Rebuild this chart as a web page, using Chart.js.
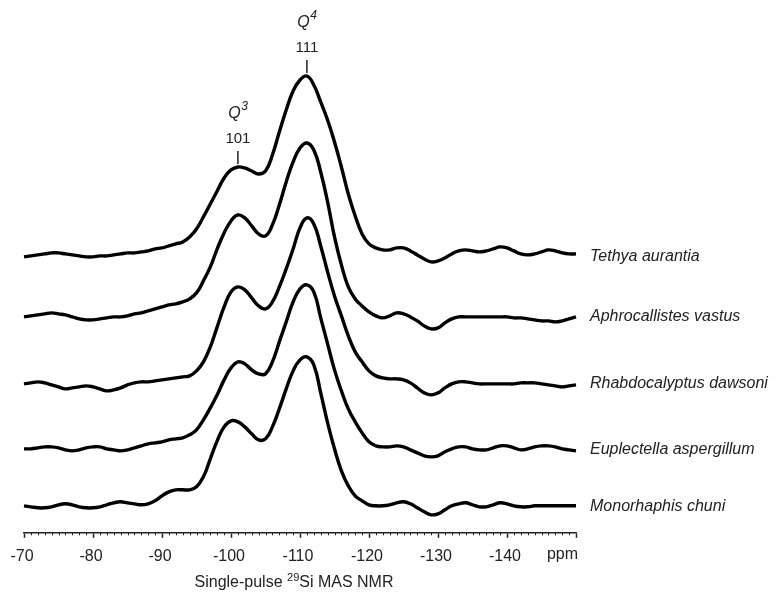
<!DOCTYPE html>
<html>
<head>
<meta charset="utf-8">
<script src="https://cdn.jsdelivr.net/npm/chart.js@4.4.1/dist/chart.umd.min.js"></script>
<style>
html, body { margin: 0; padding: 0; background: #fff; }
</style>
</head>
<body>
<canvas id="myChart" width="780" height="592"></canvas>
<script>
// chemical shift grid (ppm)
var ppm = [-70, -71, -72, -73, -74, -75, -76, -77, -78, -79,
           -80, -81, -82, -83, -84, -85, -86, -87, -88, -89,
           -90, -91, -92, -93, -94, -95, -96, -97, -98, -99,
           -100, -101, -102, -103, -104, -105, -106, -107, -108, -109,
           -110, -111, -112, -113, -114, -115, -116, -117, -118, -119,
           -120, -121, -122, -123, -124, -125, -126, -127, -128, -129,
           -130, -131, -132, -133, -134, -135, -136, -137, -138, -139,
           -140, -141, -142, -143, -144, -145, -146, -147, -148, -149, -150];

var species = ["Tethya aurantia", "Aphrocallistes vastus", "Rhabdocalyptus dawsoni",
               "Euplectella aspergillum", "Monorhaphis chuni"];

// intensities (arbitrary units)
var tethya = [0, 1, 2, 3, 4, 4, 3, 2, 1, 0,
              0, 1, 1, 2, 3, 4, 4, 5, 6, 8,
              9, 11, 13, 15, 20, 28, 40, 53, 66, 79,
              87, 90, 89, 86, 83, 86, 102, 125, 147, 166,
              177, 181, 172, 155, 137, 115, 90, 63, 41, 23,
              13, 9, 7, 7, 9, 9, 6, 2, -2, -5,
              -4, -1, 3, 6, 7, 6, 5, 6, 8, 10,
              9, 6, 3, 2, 3, 5, 7, 6, 4, 3, 3];

var aphrocallistes = [0, 1, 2, 3, 4, 3, 2, 0, -2, -3,
                      -3, -2, -1, 0, 0, 1, 3, 4, 6, 8,
                      10, 12, 13, 15, 18, 24, 36, 50, 68, 84,
                      96, 102, 99, 91, 83, 81, 92, 112, 135, 155,
                      169, 174, 167, 145, 115, 80, 52, 30, 18, 11,
                      5, 1, -1, 1, 4, 3, 0, -4, -9, -12,
                      -11, -6, -2, 0, 0, 0, 0, 0, 0, 0,
                      0, -1, -1, -2, -3, -4, -4, -5, -4, -2, 0];

var rhabdocalyptus = [0, 1, 2, 1, -1, -3, -5, -4, -3, -2,
                      -3, -5, -7, -6, -4, -1, 1, 2, 2, 3,
                      4, 5, 6, 7, 8, 13, 22, 37, 57, 77,
                      92, 97, 94, 86, 78, 75, 82, 97, 115, 135,
                      156, 166, 160, 138, 112, 88, 68, 48, 32, 22,
                      13, 8, 6, 5, 5, 4, 1, -4, -9, -11,
                      -9, -4, 0, 2, 2, 1, 0, 0, 0, 0,
                      0, 0, 1, 1, 1, 0, -1, -2, -3, -2, -1];

var euplectella = [1, 1, 2, 3, 3, 2, 0, -1, 0, 2,
                   3, 3, 1, 0, -1, 0, 2, 4, 6, 7,
                   8, 10, 11, 12, 15, 20, 30, 42, 55, 70,
                   82, 88, 86, 80, 76, 76, 88, 108, 128, 148,
                   161, 165, 158, 132, 106, 80, 59, 41, 28, 17,
                   8, 4, 3, 3, 4, 3, 0, -3, -6, -7,
                   -6, -2, 1, 3, 3, 1, 0, 0, 2, 4,
                   4, 2, 0, 1, 3, 4, 4, 3, 1, 0, -1];

var monorhaphis = [1, 0, -1, -1, 0, 2, 3, 2, 0, -1,
                   -1, 0, 2, 4, 5, 4, 3, 2, 3, 6,
                   11, 15, 17, 17, 17, 20, 30, 48, 66, 80,
                   86, 85, 80, 73, 67, 68, 80, 98, 118, 136,
                   147, 150, 142, 114, 84, 58, 36, 21, 11, 6,
                   2, 1, 1, 2, 4, 5, 3, -1, -5, -8,
                   -7, -3, 1, 3, 4, 2, 0, 0, 2, 4,
                   3, 1, 0, 0, 1, 1, 1, 1, 1, 1, 1];

var series = [tethya, aphrocallistes, rhabdocalyptus, euplectella, monorhaphis];
// vertical stacking of the spectra
var offsets = [276, 216, 149, 83, 26];

var tickValues = [-70, -80, -90, -100, -110, -120, -130, -140, -150];
var tickLabels = ["-70", "-80", "-90", "-100", "-110", "-120", "-130", "-140", "ppm"];

var peakPositions = [-101, -111];
var peakLabels = ["101", "111"];
var peakSites = ["3", "4"];

var ink = "#222";
var font = "'Liberation Sans', Arial, sans-serif";

var datasets = series.map(function (s, i) {
    return {
        label: species[i],
        data: ppm.map(function (p, j) { return { x: p, y: s[j] + offsets[i] }; }),
        borderColor: "#000",
        borderWidth: 3.4,
        pointRadius: 0,
        fill: false,
        tension: 0.45,
        clip: false
    };
});

var decorations = {
    id: "decorations",
    afterDraw: function (chart) {
        var c = chart.ctx, xs = chart.scales.x, ys = chart.scales.y, area = chart.chartArea;
        c.save();
        c.fillStyle = ink;
        c.strokeStyle = ink;

        // minor ticks every 1 ppm
        c.lineWidth = 1;
        c.beginPath();
        for (var v = -70; v >= -150; v--) {
            if (v % 10 === 0) continue;
            var px = Math.round(xs.getPixelForValue(v)) + 0.5;
            c.moveTo(px, area.bottom);
            c.lineTo(px, area.bottom + 2.5);
        }
        c.stroke();

        // last tick label is the unit, right-aligned to the axis end
        c.font = "16px " + font;
        c.textAlign = "right";
        c.textBaseline = "middle";
        c.fillText(tickLabels[tickLabels.length - 1], area.right + 2, area.bottom + 22);

        // peak markers on the top spectrum
        c.lineWidth = 1.5;
        c.textAlign = "center";
        peakPositions.forEach(function (p, k) {
            var j = ppm.indexOf(p);
            var px = xs.getPixelForValue(p);
            var py = ys.getPixelForValue(series[0][j] + offsets[0]);
            c.beginPath();
            c.moveTo(px, py - 3);
            c.lineTo(px, py - 16);
            c.stroke();
            c.font = "15px " + font;
            c.fillText(peakLabels[k], px, py - 28);
            c.font = "italic 16px " + font;
            var qw = c.measureText("Q").width;
            c.font = "12px " + font;
            var sw = c.measureText(peakSites[k]).width;
            var x0 = px - (qw + sw) / 2;
            c.textAlign = "left";
            c.font = "italic 16px " + font;
            c.fillText("Q", x0, py - 53);
            c.font = "italic 12px " + font;
            c.fillText(peakSites[k], x0 + qw + 0.5, py - 60);
            c.textAlign = "center";
        });

        // species names
        c.textAlign = "left";
        c.font = "italic 16px " + font;
        species.forEach(function (name, i) {
            c.fillText(name, area.right + 14, ys.getPixelForValue(offsets[i]));
        });

        // axis title with superscript
        var t1 = "Single-pulse ", t2 = "29", t3 = "Si MAS NMR";
        c.font = "16px " + font;
        var w1 = c.measureText(t1).width, w3 = c.measureText(t3).width;
        c.font = "11px " + font;
        var w2 = c.measureText(t2).width;
        var tx = (area.left + area.right) / 2 - 6 - (w1 + w2 + w3) / 2;
        var ty = 583;
        c.font = "16px " + font;
        c.fillText(t1, tx, ty);
        c.font = "11px " + font;
        c.fillText(t2, tx + w1, ty - 5);
        c.font = "16px " + font;
        c.fillText(t3, tx + w1 + w2, ty);
        c.restore();
    }
};

var ctx = document.getElementById("myChart");
var myChart = new Chart(ctx, {
    type: "line",
    data: { datasets: datasets },
    options: {
        responsive: false,
        animation: false,
        layout: { padding: { left: 24, right: 204, top: 60, bottom: 17 } },
        plugins: { legend: { display: false }, tooltip: { enabled: false } },
        scales: {
            x: {
                type: "linear",
                min: -150,
                max: -70,
                reverse: true,
                border: { display: true, color: ink, width: 1.5 },
                grid: { drawOnChartArea: false, drawTicks: true, tickLength: 5, tickColor: ink, tickWidth: 1.5 },
                afterBuildTicks: function (scale) {
                    scale.ticks = tickValues.map(function (v) { return { value: v }; });
                },
                ticks: {
                    autoSkip: false,
                    maxRotation: 0,
                    padding: 9,
                    labelOffset: -2,
                    color: ink,
                    font: { size: 16, family: font },
                    callback: function (value) {
                        var k = tickValues.indexOf(value);
                        return k >= 0 && k < tickValues.length - 1 ? tickLabels[k] : "";
                    }
                }
            },
            y: {
                display: false,
                min: 0,
                max: 473
            }
        }
    },
    plugins: [decorations]
});
</script>
</body>
</html>
